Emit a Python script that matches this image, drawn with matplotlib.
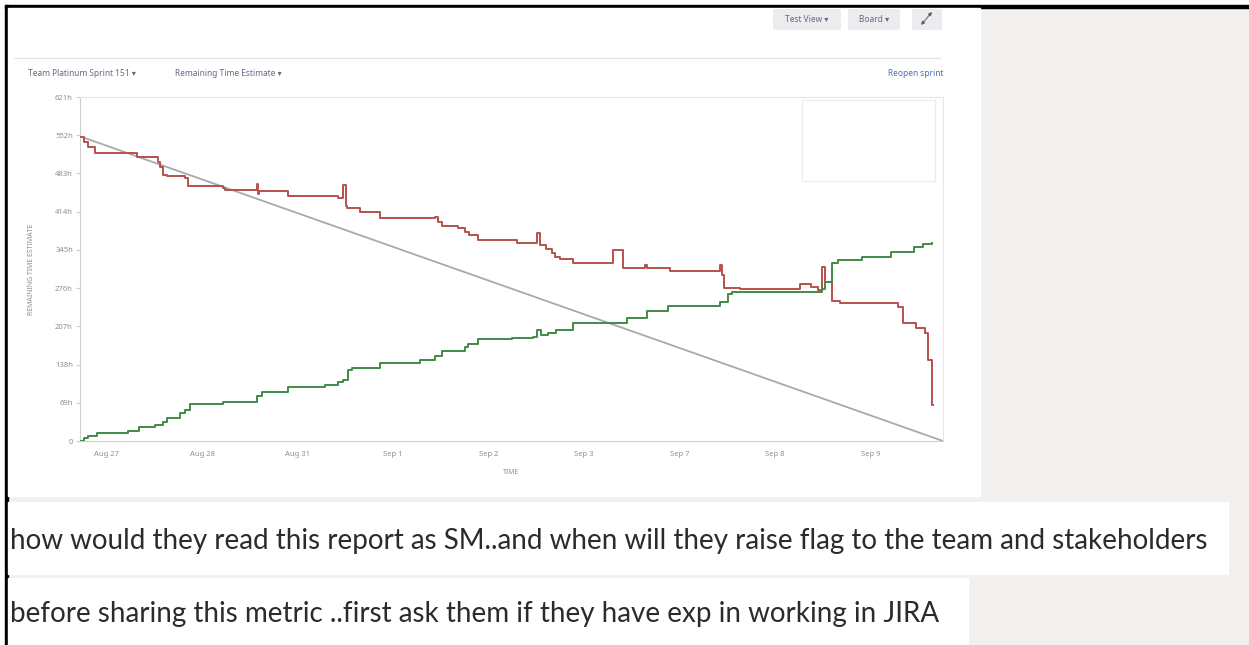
import matplotlib
matplotlib.use("Agg")
import matplotlib.pyplot as plt
from matplotlib.patches import Rectangle, FancyBboxPatch

# burndown data, x = working days since sprint start
remaining_t = [0.00, 0.04, 0.08, 0.16, 0.60, 0.82, 0.84, 0.87, 0.91, 1.10, 1.13,
               1.50, 1.52, 1.85, 1.86, 1.88, 2.18, 2.70, 2.75, 2.79, 2.80, 2.93,
               3.14, 3.72, 3.75, 3.79, 3.96, 4.03, 4.08, 4.17, 4.58, 4.79, 4.82,
               4.88, 4.94, 4.98, 5.03, 5.16, 5.58, 5.69, 5.92, 5.94, 6.18, 6.70,
               6.73, 6.75, 6.91, 7.54, 7.66, 7.73, 7.77, 7.80, 7.88, 7.96, 8.57,
               8.62, 8.76, 8.85, 8.88, 8.92, 8.94]
remaining_h = [548, 540, 530, 520, 513, 503, 494, 480, 478, 474, 460,
               457, 453, 464, 446, 451, 442, 438, 462, 425, 420, 413,
               402, 405, 395, 388, 385, 378, 372, 363, 357, 375, 354,
               346, 340, 333, 328, 322, 345, 312, 318, 312, 306, 318,
               300, 277, 274, 284, 278, 272, 314, 287, 252, 249, 242,
               213, 204, 195, 146, 65, 65]

completed_t = [0.00, 0.04, 0.08, 0.18, 0.50, 0.62, 0.79, 0.87, 0.91, 1.05, 1.10,
               1.15, 1.50, 1.85, 1.91, 2.18, 2.57, 2.70, 2.75, 2.81, 2.85, 3.14,
               3.56, 3.72, 3.79, 4.03, 4.06, 4.17, 4.53, 4.74, 4.79, 4.83, 4.90,
               4.99, 5.16, 5.73, 5.94, 6.16, 6.70, 6.79, 6.83, 7.77, 7.80, 7.88,
               7.94, 8.19, 8.50, 8.74, 8.83, 8.93]
completed_h = [0, 5, 9, 14, 18, 25, 29, 34, 42, 51, 56,
               67, 70, 81, 88, 97, 101, 106, 110, 128, 132, 141,
               146, 153, 162, 170, 175, 184, 186, 188, 200, 191, 195,
               200, 213, 222, 235, 244, 251, 265, 269, 274, 287, 321,
               327, 332, 341, 350, 356, 357]

guide_start_h = 550
sprint_end_t = 9.04

day_labels = ["Aug 27", "Aug 28", "Aug 31", "Sep 1", "Sep 2", "Sep 3",
              "Sep 7", "Sep 8", "Sep 9"]
y_ticks_h = [0, 69, 138, 207, 276, 345, 414, 483, 552, 621]
y_tick_labels = ["0"] + [f"{v}h" for v in y_ticks_h[1:]]

messages = [
    "how would they read this report as SM..and when will they raise flag to the team and stakeholders",
    "before sharing this metric ..first ask them if they have exp in working in JIRA",
]

W, H = 1249, 645
ui_font = ["Noto Sans", "DejaVu Sans"]
grey_txt = "#8a8f99"

fig = plt.figure(figsize=(W / 100, H / 100), dpi=100)
fig.patch.set_facecolor("#f1f0ef")

# page / screenshot background in pixel coords
bg = fig.add_axes([0, 0, 1, 1])
bg.set_xlim(0, W)
bg.set_ylim(H, 0)
bg.axis("off")

bg.add_patch(Rectangle((0, 0), W, 5, color="white"))
bg.add_patch(Rectangle((0, 0), 5, H, color="white"))
bg.add_patch(Rectangle((5, 5), W, 3, color="black"))
bg.add_patch(Rectangle((5, 5), 3, H, color="black"))
bg.add_patch(Rectangle((8, 8), 972, 488, color="white"))
bg.add_patch(Rectangle((8, 502), 1220, 72, color="white"))
bg.add_patch(Rectangle((8, 578), 960, 67, color="white"))

# header buttons
for x0, w, label in [(773, 68, "Test View \u25be"), (848, 52, "Board \u25be"), (912, 30, "")]:
    bg.add_patch(FancyBboxPatch((x0, 9), w, 21, boxstyle="round,pad=0,rounding_size=2",
                                fc="#ececee", ec="none"))
    if label:
        bg.text(x0 + w / 2, 19.5, label, ha="center", va="center", fontsize=6,
                color="#5e6c84", family=ui_font)
bg.annotate("", xy=(932, 12), xytext=(921, 25),
            arrowprops=dict(arrowstyle="<|-|>", color="#505f79", lw=0.7,
                            mutation_scale=5, shrinkA=0, shrinkB=0))

bg.plot([15, 940], [58, 58], color="#e3e4e6", lw=1)
bg.text(28, 73, "Team Platinum Sprint 151 \u25be", ha="left", va="center",
        fontsize=6, color="#5e6c84", family=ui_font)
bg.text(175, 73, "Remaining Time Estimate \u25be", ha="left", va="center",
        fontsize=6, color="#5e6c84", family=ui_font)
bg.text(943, 73, "Reopen sprint", ha="right", va="center",
        fontsize=6, color="#4a6fb5", family=ui_font)

# chart
ax = fig.add_axes([80 / W, 1 - 441 / H, (943 - 80) / W, (441 - 97) / H])
ax.set_facecolor("white")
ax.plot([0, sprint_end_t], [guide_start_h, 0], color="#a9a9a9", lw=1.3, zorder=2)
ax.plot(remaining_t, remaining_h, drawstyle="steps-post", color="#b5524c", lw=1.4, zorder=3)
ax.plot(completed_t, completed_h, drawstyle="steps-post", color="#3f8a45", lw=1.4, zorder=3)

ax.set_xlim(0, sprint_end_t)
ax.set_ylim(0, 621)
ax.set_yticks(y_ticks_h)
ax.set_yticklabels(y_tick_labels)
ax.set_xticks([0.28 + i for i in range(len(day_labels))])
ax.set_xticklabels(day_labels)
ax.tick_params(axis="y", length=3, color="#cccccc", labelsize=5.5,
               labelcolor=grey_txt, pad=2)
ax.tick_params(axis="x", length=0, labelsize=5.5, labelcolor=grey_txt, pad=7)
for lab in ax.get_xticklabels() + ax.get_yticklabels():
    lab.set_family(ui_font)
for side in ["left", "bottom"]:
    ax.spines[side].set_color("#cfcfcf")
for side in ["top", "right"]:
    ax.spines[side].set_color("#e6e6e6")
ax.set_xlabel("TIME", fontsize=5, color=grey_txt, family=ui_font, labelpad=8)
ax.set_ylabel("REMAINING TIME ESTIMATE", fontsize=5, color=grey_txt, family=ui_font)
ax.yaxis.set_label_coords(-45 / 863, 0.5)

# empty legend box
ax.add_patch(Rectangle((802, 100), 133, 81, transform=bg.transData, fc="white",
                       ec="#ececec", lw=0.8, clip_on=False, zorder=5))

# chat messages, font size fitted to the first line width
msg_font = ["Lato", "DejaVu Sans"]
t1 = bg.text(10, 541, messages[0], ha="left", va="center", fontsize=20,
             color="#2b2b2b", family=msg_font)
fig.canvas.draw()
w1 = t1.get_window_extent().width
fs = 20 * 1198 / w1
t1.set_fontsize(fs)
bg.text(10, 614, messages[1], ha="left", va="center", fontsize=fs,
        color="#2b2b2b", family=msg_font)

fig.savefig("out.png", dpi=100, facecolor=fig.get_facecolor())
